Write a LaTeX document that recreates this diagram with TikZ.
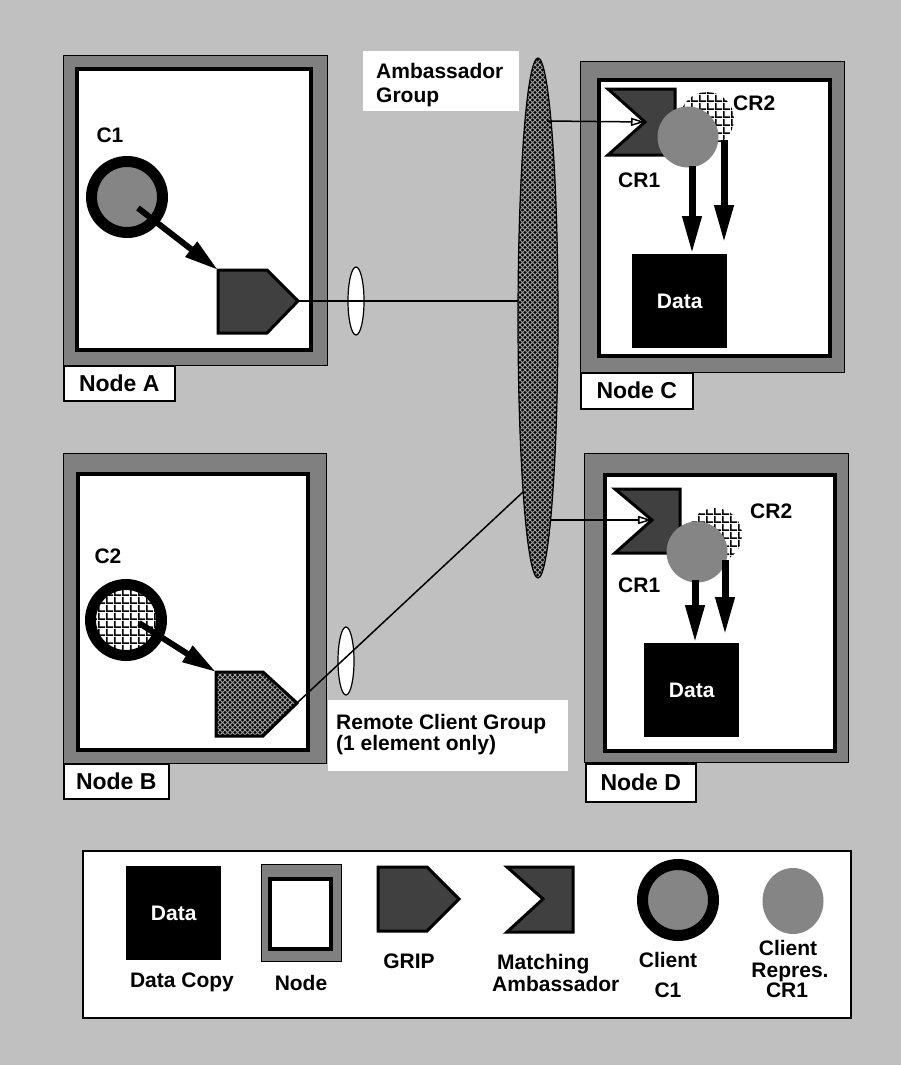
\documentclass[tikz,border=0pt]{standalone}
\usepackage{fontspec}
\setmainfont{Liberation Sans}
\usetikzlibrary{arrows.meta,shapes.geometric,patterns.meta}
\definecolor{bggray}{HTML}{C0C0C0}
\definecolor{framegray}{HTML}{808080}
\definecolor{darkfill}{HTML}{404040}
\definecolor{clientgray}{HTML}{858585}
\definecolor{meshgray}{HTML}{A0A0A0}
\tikzdeclarepattern{name=meshpat, type=uncolored,
  bounding box={(-1pt,-1pt) and (6pt,6pt)}, tile size={(5pt,5pt)},
  code={\draw[line width=0.75pt] (-1pt,-1pt)--(6pt,6pt) (-1pt,6pt)--(6pt,-1pt);}}
\tikzdeclarepattern{name=gridpat, type=uncolored,
  bounding box={(0pt,0pt) and (7.5pt,7.5pt)}, tile size={(7.5pt,7.5pt)},
  code={\fill (0pt,0pt) rectangle (7.5pt,1.8pt); \fill (0pt,0pt) rectangle (1.8pt,7.5pt);}}
\tikzset{
  txt/.style={font=\fontsize{21}{22}\selectfont\bfseries, inner sep=0pt},
  nodelbl/.style={draw=black, line width=1.5pt, fill=white, font=\fontsize{23}{24}\selectfont\bfseries, inner sep=0pt, anchor=north west},
  frameouter/.style={draw=black, line width=1pt, fill=framegray},
  frameinner/.style={draw=black, line width=4pt, fill=white},
  gripshape/.style={draw=black, line width=3pt, fill=darkfill, line join=miter},
  meshshape/.style={draw=black, line width=3pt, line join=miter, preaction={fill=black}, pattern={meshpat}, pattern color=meshgray},
  clientring/.style={circle, draw=black, line width=11pt, fill=clientgray, minimum size=71pt, inner sep=0pt},
  clientringgrid/.style={circle, draw=black, line width=11pt, preaction={fill=white}, pattern={gridpat}, pattern color=black, minimum size=71pt, inner sep=0pt},
  repgray/.style={circle, fill=clientgray, minimum size=61pt, inner sep=0pt},
  repgrid/.style={circle, preaction={fill=white}, pattern={gridpat}, pattern color=black, minimum size=54pt, inner sep=0pt},
  databox/.style={fill=black, text=white, font=\fontsize{21}{22}\selectfont\bfseries, inner sep=0pt, minimum width=95pt, minimum height=94pt},
  bigarrow/.style={line width=6pt, -{Triangle[length=34pt,width=18pt]}},
  downarrow/.style={line width=7pt, -{Triangle[length=38pt,width=18pt]}},
  openarrow/.style={line width=1.5pt, -{Triangle[open,length=14pt,width=8pt]}},
  smallell/.style={ellipse, draw=black, line width=1.2pt, fill=white, minimum width=16pt, minimum height=68pt, inner sep=0pt},
}
\begin{document}
\begin{tikzpicture}[x=1pt,y=-1pt]
\useasboundingbox (0,0) rectangle (901,1065);
\fill[bggray] (0,0) rectangle (901,1065);

% ---------- Node A ----------
\draw[frameouter] (63,56) rectangle (327,365);
\draw[frameinner] (77,69) rectangle (311,350);
\node[nodelbl, minimum width=111pt, minimum height=35pt] (labA) at (63,365) {Node A};
\node[txt, anchor=base] (tC1) at (110,142) {C1};
\node[clientring] (c1) at (127,197) {};
\draw[gripshape] (218,270) coordinate (gAnw) -- (267,270) -- (298,301) coordinate (gAtip) -- (267,333) -- (218,333) -- cycle;
\coordinate (c1s) at (138,208);
\draw[bigarrow] (c1s) -- (gAnw);

% ---------- Node B ----------
\draw[frameouter] (63,453) rectangle (326,763);
\draw[frameinner] (78,474) rectangle (308,750);
\node[nodelbl, minimum width=105pt, minimum height=35pt] (labB) at (63,763) {Node B};
\node[txt, anchor=base] (tC2) at (108,563) {C2};
\node[clientringgrid] (c2) at (126,620) {};
\draw[meshshape] (216,672) coordinate (gBnw) -- (263,672) -- (297,703) coordinate (gBtip) -- (263,736) -- (216,736) -- cycle;
\coordinate (c2s) at (139,623);
\draw[bigarrow] (c2s) -- (gBnw);

% ---------- Node C ----------
\draw[frameouter] (580,62) rectangle (844,372);
\draw[frameinner] (599,80) rectangle (830,356);
\node[nodelbl, minimum width=112pt, minimum height=36pt] (labC) at (580,372) {Node C};
\draw[gripshape] (608,89) -- (675,89) -- (675,155) -- (608,155) -- (645,122) coordinate (ambCnotch) -- cycle;
\node[repgrid] (cr2C) at (707,119) {};
\node[repgray] (cr1C) at (688,137) {};
\node[txt, anchor=base west] (tCR2C) at (733,110) {CR2};
\node[txt, anchor=base west] (tCR1C) at (618,187) {CR1};
\node[databox, anchor=north west] (dataC) at (632,254) {Data};
\coordinate (aC1s) at (692,166);
\coordinate (aC2s) at (724,140);
\draw[downarrow] (aC2s) -- (aC2s |- 0,243);
\draw[downarrow] (aC1s) -- (aC1s |- dataC.north);

% ---------- Node D ----------
\draw[frameouter] (584,453) rectangle (848,762);
\draw[frameinner] (605,475) rectangle (835,751);
\node[nodelbl, minimum width=110pt, minimum height=38pt] (labD) at (585,763) {Node D};
\draw[gripshape] (615,489) -- (680,489) -- (680,553) -- (615,553) -- (652,520) coordinate (ambDnotch) -- cycle;
\node[repgrid] (cr2D) at (715,535) {};
\node[repgray] (cr1D) at (697,552) {};
\node[txt, anchor=base west] (tCR2D) at (750,518) {CR2};
\node[txt, anchor=base west] (tCR1D) at (618,592) {CR1};
\node[databox, anchor=north west] (dataD) at (644,643) {Data};
\coordinate (aD1s) at (695,580);
\coordinate (aD2s) at (725,560);
\draw[downarrow] (aD2s) -- (aD2s |- 0,635);
\draw[downarrow] (aD1s) -- (aD1s |- dataD.north);

% ---------- groups and connectors ----------
\coordinate (ambc) at (538,318);
\coordinate (bjoin) at (538,478);
\node[smallell] (ellA) at (356,301) {};
\node[smallell] (ellB) at (346,661) {};
\draw[line width=1.5pt] (gAtip) -- (gAtip -| ambc);
\draw[line width=1.5pt] (gBtip) -- (bjoin);
\node[ellipse, draw=black, line width=1.2pt, preaction={fill=black}, pattern={meshpat}, pattern color=meshgray, minimum width=40pt, minimum height=520pt, inner sep=0pt] (amb) at (ambc) {};
\coordinate (ambCs) at (547,121);
\coordinate (ambDs) at (550,520);
\draw[openarrow] (ambCs) -- (ambCnotch);
\draw[openarrow] (ambDs) -- (ambDnotch);

\fill[white] (363,51) rectangle (519,111);
\node[txt, anchor=base west] (tAmb1) at (376,78) {Ambassador};
\node[txt, anchor=base west] (tAmb2) at (376,102) {Group};

\fill[white] (328,700) rectangle (568,771);
\node[txt, anchor=base west] (tRem1) at (336,729) {Remote Client Group};
\node[txt, anchor=base west] (tRem2) at (336,750) {(1 element only)};

% ---------- Legend ----------
\draw[black, line width=1.5pt, fill=white] (83,851) rectangle (851,1018);
\node[databox, anchor=north west] (dataL) at (126,866) {Data};
\node[txt, anchor=base] (tDC) at (182,987) {Data Copy};
\draw[frameouter] (261,864) rectangle (341,961);
\draw[frameinner] (270,879) rectangle (331,949);
\node[txt, anchor=base] (tNode) at (301,990) {Node};
\draw[gripshape] (378,867) -- (427,867) -- (459,899) -- (427,931) -- (378,931) -- cycle;
\node[txt, anchor=base] (tGRIP) at (409,968) {GRIP};
\draw[gripshape] (507,867) -- (573,867) -- (573,932) -- (507,932) -- (543,899) -- cycle;
\node[txt, anchor=base west] (tMat) at (497,969) {Matching};
\node[txt, anchor=base west] (tAmbL) at (492,991) {Ambassador};
\node[clientring] (c1L) at (678,900) {};
\node[txt, anchor=base] (tCl1) at (668,967) {Client};
\node[txt, anchor=base] (tCl1b) at (668,997) {C1};
\node[ellipse, fill=clientgray, minimum width=61pt, minimum height=66pt, inner sep=0pt] (cr1L) at (793,901) {};
\node[txt, anchor=base] (tCl2) at (788,955) {Client};
\node[txt, anchor=base] (tRep) at (790,977) {Repres.};
\node[txt, anchor=base] (tCR1L) at (787,997) {CR1};
\end{tikzpicture}
\end{document}
